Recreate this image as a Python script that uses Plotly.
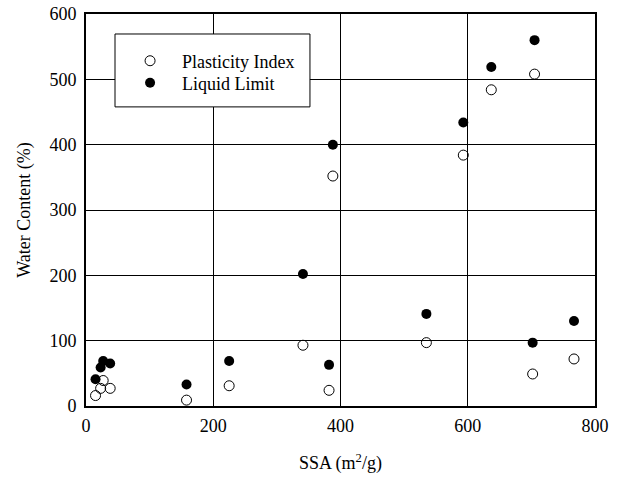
import plotly.graph_objects as go

ssa = [15, 23, 27, 38, 158, 225, 341, 382, 388, 535, 593, 637, 702, 705, 767]
plasticity_index = [16, 27, 39, 27, 9, 31, 93, 24, 352, 97, 384, 484, 49, 508, 72]
liquid_limit = [41, 59, 69, 65, 33, 69, 202, 63, 400, 141, 434, 519, 97, 560, 130]

x_ticks = [0, 200, 400, 600, 800]
y_ticks = [0, 100, 200, 300, 400, 500, 600]

FONT = "Liberation Serif, Times New Roman, serif"

fig = go.Figure()
fig.add_trace(go.Scatter(
    x=ssa, y=plasticity_index, mode="markers", name="Plasticity Index",
    marker=dict(symbol="circle-open", size=10, color="black", line=dict(width=1, color="black")),
    cliponaxis=False, legend="legend",
))
fig.add_trace(go.Scatter(
    x=ssa, y=liquid_limit, mode="markers", name="Liquid Limit",
    marker=dict(symbol="circle", size=10, color="black"),
    cliponaxis=False, legend="legend2",
))

# legend frame
fig.add_shape(type="rect", xref="paper", yref="paper", x0=0.057, x1=0.440, y0=0.763, y1=0.949,
              line=dict(color="black", width=1), fillcolor="white", layer="above")

leg_common = dict(xanchor="left", yanchor="middle", bgcolor="rgba(0,0,0,0)", borderwidth=0,
                  font=dict(family=FONT, size=18, color="black"), itemwidth=54)

fig.update_layout(
    width=619, height=480,
    margin=dict(l=86, r=24, t=14, b=74),
    paper_bgcolor="white", plot_bgcolor="white",
    font=dict(family=FONT, size=18, color="black"),
    showlegend=True,
    legend=dict(x=0.063, y=0.88, **leg_common),
    legend2=dict(x=0.063, y=0.824, **leg_common),
    xaxis=dict(range=[0, 800], tickvals=x_ticks, ticktext=[str(v) for v in x_ticks],
               showgrid=True, gridcolor="black", gridwidth=1, zeroline=False,
               showline=True, linecolor="black", linewidth=2, mirror=True,
               ticks="", ticklabelstandoff=2, automargin=False,
               title=dict(text="SSA (m<sup>2</sup>/g)", font=dict(family=FONT, size=18), standoff=22)),
    yaxis=dict(range=[0, 600], tickvals=y_ticks, ticktext=[str(v) for v in y_ticks],
               showgrid=True, gridcolor="black", gridwidth=1, zeroline=False,
               showline=True, linecolor="black", linewidth=2, mirror=True,
               ticks="", ticklabelstandoff=4, automargin=False,
               title=dict(text="Water Content (%)", font=dict(family=FONT, size=18), standoff=14)),
)

fig.write_html("out.html", config={"displayModeBar": False},
               post_script="document.body.style.margin='0';")
